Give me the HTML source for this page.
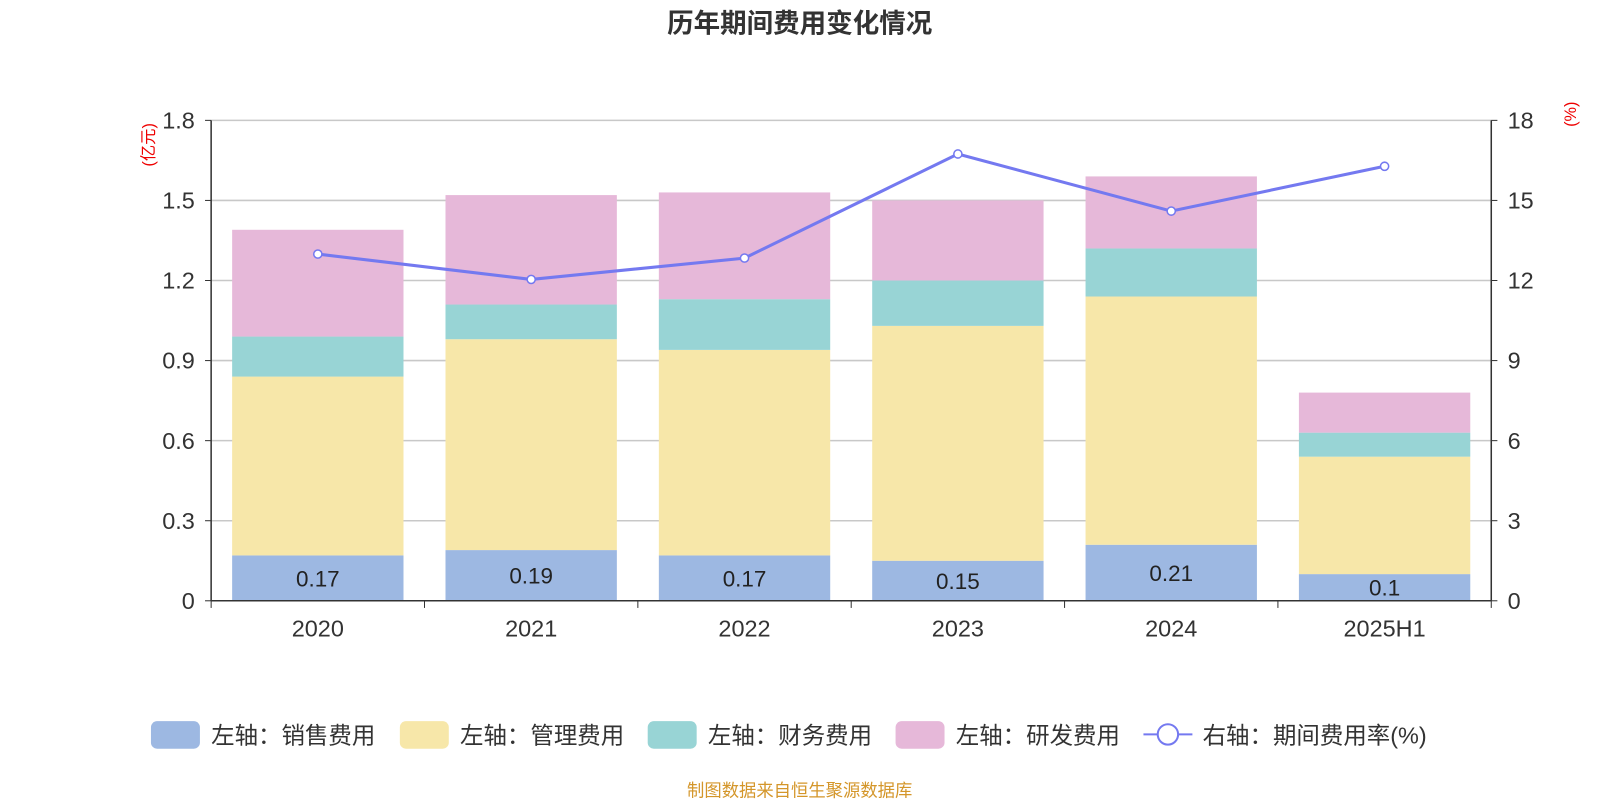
<!DOCTYPE html>
<html><head><meta charset="utf-8">
<style>
html,body{margin:0;padding:0;background:#fff;}
svg{display:block;font-family:"Liberation Sans","Noto Sans CJK SC",sans-serif;}
</style></head>
<body>
<svg id="chart" width="1600" height="800" viewBox="0 0 1568.6 784.3">
<text x="784" y="32" text-anchor="middle" font-size="26" font-weight="bold" fill="#333">历年期间费用变化情况</text>
<text x="0" y="0" transform="translate(151,142) rotate(-90)" text-anchor="middle" font-size="16" fill="#e00">(亿元)</text>
<text x="0" y="0" transform="translate(1545,112) rotate(-90)" text-anchor="middle" font-size="16" fill="#e00">(%)</text>
<g id="grid"></g><g id="bars"></g><g id="axes"></g><g id="line"></g>
<g id="legend"></g>
<text x="784" y="781" text-anchor="middle" font-size="17" fill="#d4962a">制图数据来自恒生聚源数据库</text>
</svg>
<script>
const categories = ["2020","2021","2022","2023","2024","2025H1"];
const salesExp = [0.17,0.19,0.17,0.15,0.21,0.10];
const mgmtExp = [0.67,0.79,0.77,0.88,0.93,0.44];
const finExp = [0.15,0.13,0.19,0.17,0.18,0.09];
const rdExp = [0.40,0.41,0.40,0.30,0.27,0.15];
const expRate = [12.99,12.04,12.84,16.74,14.60,16.28];
const leftTicks = ["0","0.3","0.6","0.9","1.2","1.5","1.8"];
const rightTicks = ["0","3","6","9","12","15","18"];

const NS="http://www.w3.org/2000/svg";
const X0=207,X1=1462,Y0=589,Y1=118;
const bw=(X1-X0)/categories.length, barW=168;
const yL=v=>Y0-(v/1.8)*(Y0-Y1);
const yR=v=>Y0-(v/18)*(Y0-Y1);
const xC=i=>X0+bw*(i+0.5);
function mk(tag,attrs,parent,txt){const e=document.createElementNS(NS,tag);for(const k in attrs)e.setAttribute(k,attrs[k]);if(txt!==undefined)e.textContent=txt;parent.appendChild(e);return e;}
const G=id=>document.getElementById(id);

leftTicks.forEach((t,i)=>{
  const y=Y0-i*(Y0-Y1)/6;
  if(i>0){const l=mk('line',{x1:X0,x2:X1,y1:y,y2:y,stroke:'#c8c8c8','stroke-width':1.5},G('grid'));
  
  }
  const a=mk('text',{x:X0-16,y:y+8,'text-anchor':'end','font-size':23,fill:'#333'},G('axes'),t);
  
  
  mk('line',{x1:X0-6,x2:X0,y1:y,y2:y,stroke:'#333'},G('axes'));
  const b=mk('text',{x:X1+16,y:y+8,'text-anchor':'start','font-size':23,fill:'#333'},G('axes'),rightTicks[i]);
  
  
  mk('line',{x1:X1,x2:X1+6,y1:y,y2:y,stroke:'#333'},G('axes'));
});
mk('line',{x1:X0,x2:X0,y1:Y1,y2:Y0,stroke:'#333','stroke-width':1.5},G('axes'));
mk('line',{x1:X1,x2:X1,y1:Y1,y2:Y0,stroke:'#333','stroke-width':1.5},G('axes'));
mk('line',{x1:X0,x2:X1,y1:Y0,y2:Y0,stroke:'#333','stroke-width':1.5},G('axes'));
for(let i=0;i<=categories.length;i++){const x=X0+bw*i;mk('line',{x1:x,x2:x,y1:Y0,y2:Y0+7,stroke:'#333'},G('axes'));}

const series=[[salesExp,'#9db8e2','sales'],[mgmtExp,'#f7e7a9','mgmt'],[finExp,'#98d4d5','finance'],[rdExp,'#e6b8d9','rnd']];
categories.forEach((c,i)=>{
  let acc=0;
  series.forEach(([arr,col,nm])=>{
    const y1=yL(acc+arr[i]),y2=yL(acc);
    const r=mk('rect',{x:xC(i)-barW/2,y:y1,width:barW,height:y2-y1,fill:col},G('bars'));
    
    
    acc+=arr[i];
  });
  const lb=mk('text',{x:xC(i),y:(yL(salesExp[i])+Y0)/2+8,'text-anchor':'middle','font-size':22,fill:'#222'},G('bars'),String(salesExp[i]));
  
  
  const xl=mk('text',{x:xC(i),y:Y0+35,'text-anchor':'middle','font-size':23,fill:'#333'},G('axes'),c);
  
  
});

const pts=expRate.map((v,i)=>xC(i)+','+yR(v)).join(' ');
const pl=mk('polyline',{points:pts,fill:'none',stroke:'#7479f0','stroke-width':3},G('line'));


expRate.forEach((v,i)=>{
  const p=mk('circle',{cx:xC(i),cy:yR(v),r:4,fill:'#fff',stroke:'#7479f0','stroke-width':1.5},G('line'));
  
  
});

const legendItems=[['#9db8e2','左轴：销售费用',148],['#f7e7a9','左轴：管理费用',392],['#98d4d5','左轴：财务费用',635],['#e6b8d9','左轴：研发费用',878]];
legendItems.forEach(([col,txt,x])=>{
  const g=mk('g',{},G('legend'));
  
  
  mk('rect',{x:x,y:707,width:48,height:27,rx:6,fill:col},g);
  mk('text',{x:x+59,y:729,'font-size':23,fill:'#333'},g,txt);
});
const lg=mk('g',{},G('legend'));


mk('line',{x1:1121,x2:1169,y1:720,y2:720,stroke:'#7479f0','stroke-width':2},lg);
mk('circle',{cx:1145,cy:720,r:10,fill:'#fff',stroke:'#7479f0','stroke-width':2},lg);
mk('text',{x:1179,y:729,'font-size':23,fill:'#333'},lg,'右轴：期间费用率(%)');
</script>
</body></html>
